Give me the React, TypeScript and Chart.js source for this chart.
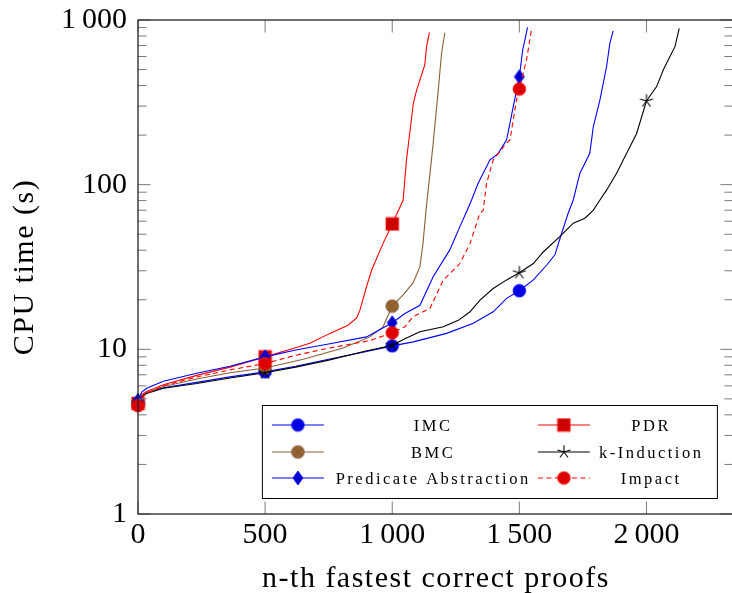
import React, { useEffect, useRef } from "react";
import { Chart, registerables } from "chart.js";

Chart.register(...registerables);

// ---------- data ----------
const seriesNames = ["IMC", "PDR", "BMC", "k-Induction", "Predicate Abstraction", "Impact"];

const imcPoints: [number, number][] = [
  [0, 4.7], [15, 5.2], [34, 5.45], [100, 5.85], [231, 6.3], [362, 6.8], [500, 7.3],
  [620, 7.9], [750, 8.7], [900, 9.7], [1000, 10.5], [1083, 11.1], [1214, 12.5],
  [1319, 14.4], [1397, 16.9], [1450, 20.4], [1500, 22.7], [1555, 26.4], [1607, 32.4],
  [1640, 37.5], [1666, 50.5], [1692, 67], [1712, 80.7], [1738, 117], [1777, 155],
  [1791, 225], [1817, 327], [1843, 520], [1856, 721], [1869, 860],
];

const pdrPoints: [number, number][] = [
  [0, 4.7], [15, 5.3], [34, 5.55], [100, 6.1], [231, 6.95], [362, 7.8], [500, 9.0],
  [600, 10.0], [676, 10.9], [755, 12.5], [826, 14.0], [860, 15.5], [873, 17.3],
  [899, 24], [919, 30.3], [964, 44], [1000, 57.7], [1043, 80.7], [1056, 141],
  [1083, 312], [1096, 375], [1128, 533], [1135, 689], [1146, 837],
];

const bmcPoints: [number, number][] = [
  [0, 4.7], [15, 5.2], [34, 5.45], [100, 5.95], [231, 6.6], [362, 7.2], [500, 7.7],
  [650, 8.7], [807, 10.2], [912, 11.9], [964, 13.7], [1000, 18.3], [1043, 21.4],
  [1082, 25.3], [1109, 31.8], [1121, 44], [1133, 70], [1142, 95], [1150, 123],
  [1161, 178], [1181, 375], [1194, 628], [1207, 837],
];

const kindPoints: [number, number][] = [
  [0, 4.7], [15, 5.15], [34, 5.4], [100, 5.8], [231, 6.2], [362, 6.7], [500, 7.2],
  [620, 7.8], [750, 8.6], [900, 9.8], [952, 10.2], [1000, 10.6], [1050, 11.6],
  [1109, 12.8], [1201, 13.7], [1260, 15.0], [1306, 16.9], [1345, 19.9], [1397, 23.4],
  [1450, 26.4], [1500, 29.2], [1555, 33.2], [1594, 39], [1659, 48.4], [1712, 58.4],
  [1758, 62.6], [1791, 70], [1817, 80.7], [1843, 92.6], [1882, 117], [1922, 155],
  [1961, 204], [2000, 322], [2040, 394], [2066, 497], [2092, 598], [2112, 689], [2129, 890],
];

const paPoints: [number, number][] = [
  [0, 4.9], [15, 5.5], [34, 5.8], [100, 6.4], [231, 7.15], [362, 7.9], [500, 9.0],
  [620, 9.9], [755, 10.8], [899, 11.9], [1000, 14.5], [1050, 16.5], [1109, 18.5],
  [1161, 27.6], [1227, 40.3], [1266, 55.6], [1295, 70], [1312, 80.7], [1338, 102],
  [1384, 141], [1417, 155], [1450, 187], [1476, 298], [1500, 452], [1513, 657],
  [1522, 756], [1532, 902],
];

const impactPoints: [number, number][] = [
  [0, 4.55], [15, 5.1], [34, 5.4], [100, 6.0], [231, 6.8], [362, 7.5], [500, 8.2],
  [620, 9.2], [755, 10.2], [912, 11.3], [1000, 12.6], [1050, 13.7], [1082, 15.8],
  [1148, 17.7], [1201, 26.4], [1266, 33.2], [1306, 44], [1345, 67], [1358, 70],
  [1371, 102], [1397, 141], [1443, 174], [1463, 187], [1476, 247], [1489, 327],
  [1500, 381], [1528, 571], [1541, 756], [1548, 880],
];

const xTicks = [0, 500, 1000, 1500, 2000];
const yTicks = [1, 10, 100, 1000];
const yMinorTicks = [
  2, 3, 4, 5, 6, 7, 8, 9,
  20, 30, 40, 50, 60, 70, 80, 90,
  200, 300, 400, 500, 600, 700, 800, 900,
];
const markerXs = [0, 500, 1000, 1500, 2000];
const xTitle = "n-th fastest correct proofs";
const yTitle = "CPU time (s)";

// ---------- helpers ----------
const FONT = "'Liberation Serif', 'Times New Roman', serif";

function fmt(v: number): string {
  if (v >= 1000) {
    const th = Math.floor(v / 1000);
    const rest = String(v % 1000).padStart(3, "0");
    return th + "\u2009" + rest;
  }
  return String(v);
}

function makeCanvas(w: number, h: number, draw: (g: CanvasRenderingContext2D) => void) {
  const c = document.createElement("canvas");
  c.width = w;
  c.height = h;
  const g = c.getContext("2d")!;
  draw(g);
  return c;
}

function circleMarker(fill: string, stroke: string) {
  return makeCanvas(15, 15, (g) => {
    g.beginPath();
    g.arc(7.5, 7.5, 6.3, 0, Math.PI * 2);
    g.fillStyle = fill;
    g.fill();
    g.lineWidth = 0.8;
    g.strokeStyle = stroke;
    g.stroke();
  });
}

function squareMarker(fill: string, stroke: string) {
  return makeCanvas(15, 15, (g) => {
    g.fillStyle = fill;
    g.fillRect(1.2, 1.2, 12.6, 12.6);
    g.lineWidth = 0.8;
    g.strokeStyle = stroke;
    g.strokeRect(1.2, 1.2, 12.6, 12.6);
  });
}

function otimesMarker(fill: string, stroke: string) {
  return makeCanvas(15, 15, (g) => {
    g.beginPath();
    g.arc(7.5, 7.5, 6.3, 0, Math.PI * 2);
    g.fillStyle = fill;
    g.fill();
    g.lineWidth = 0.8;
    g.strokeStyle = stroke;
    g.stroke();
    const d = 6.3 * Math.SQRT1_2;
    g.beginPath();
    g.moveTo(7.5 - d, 7.5 - d);
    g.lineTo(7.5 + d, 7.5 + d);
    g.moveTo(7.5 + d, 7.5 - d);
    g.lineTo(7.5 - d, 7.5 + d);
    g.stroke();
  });
}

function diamondMarker(fill: string, stroke: string) {
  return makeCanvas(12, 16, (g) => {
    g.beginPath();
    g.moveTo(6, 1);
    g.lineTo(11, 8);
    g.lineTo(6, 15);
    g.lineTo(1, 8);
    g.closePath();
    g.fillStyle = fill;
    g.fill();
    g.lineWidth = 0.8;
    g.strokeStyle = stroke;
    g.stroke();
  });
}

function starMarker(stroke: string) {
  return makeCanvas(16, 16, (g) => {
    g.strokeStyle = stroke;
    g.lineWidth = 1.1;
    g.beginPath();
    for (let k = 0; k < 5; k++) {
      const a = -Math.PI / 2 + (k * 2 * Math.PI) / 5;
      g.moveTo(8, 8);
      g.lineTo(8 + 6.8 * Math.cos(a), 8 + 6.8 * Math.sin(a));
    }
    g.stroke();
  });
}

function zeroPad(s: any) {
  s.paddingTop = 0;
  s.paddingBottom = 0;
  s.paddingLeft = 0;
  s.paddingRight = 0;
}

export default function App() {
  const ref = useRef<HTMLCanvasElement | null>(null);

  useEffect(() => {
    if (!ref.current) return;

    const markers = [
      circleMarker("#0000e0", "#0000ff"),
      squareMarker("#cc0000", "#ff0000"),
      otimesMarker("#996633", "#6e4a26"),
      starMarker("#000000"),
      diamondMarker("#0000cc", "#0000ff"),
      circleMarker("#dd0000", "#ff0000"),
    ];
    const colors = ["#0000ff", "#ff0000", "#8a6038", "#000000", "#0000ff", "#ff0000"];
    const dashes: number[][] = [[], [], [], [], [], [5, 3.5]];
    const allPoints = [imcPoints, pdrPoints, bmcPoints, kindPoints, paPoints, impactPoints];

    const datasets = seriesNames.map((name, i) => ({
      label: name,
      data: allPoints[i].map(([x, y]) => ({ x, y })),
      borderColor: colors[i],
      backgroundColor: colors[i],
      borderWidth: 1.1,
      borderDash: dashes[i],
      pointStyle: markers[i] as any,
      pointRadius: (ctx: any) => (ctx.raw && markerXs.includes(ctx.raw.x) ? 6 : 0),
      pointHoverRadius: 0,
      tension: 0,
      fill: false,
      clip: false as any,
      order: seriesNames.length - i,
    }));

    const framePlugin = {
      id: "pgfFrame",
      afterDatasetsDraw(chart: any) {
        const ctx: CanvasRenderingContext2D = chart.ctx;
        const ca = chart.chartArea;
        const xs = chart.scales.x;
        const ys = chart.scales.y;
        ctx.save();
        ctx.lineWidth = 1;
        ctx.strokeStyle = "#7a7a7a";
        ctx.beginPath();
        const major = 12.5;
        const minor = 8.5;
        for (const v of yTicks) {
          const p = ys.getPixelForValue(v);
          ctx.moveTo(ca.left, p); ctx.lineTo(ca.left + major, p);
          ctx.moveTo(ca.right, p); ctx.lineTo(ca.right - major, p);
        }
        for (const v of yMinorTicks) {
          const p = ys.getPixelForValue(v);
          ctx.moveTo(ca.left, p); ctx.lineTo(ca.left + minor, p);
          ctx.moveTo(ca.right, p); ctx.lineTo(ca.right - minor, p);
        }
        for (const v of xTicks) {
          const p = xs.getPixelForValue(v);
          ctx.moveTo(p, ca.bottom); ctx.lineTo(p, ca.bottom - major);
          ctx.moveTo(p, ca.top); ctx.lineTo(p, ca.top + major);
        }
        ctx.stroke();
        ctx.lineWidth = 1.3;
        ctx.strokeStyle = "#262626";
        ctx.strokeRect(ca.left, ca.top, ca.right - ca.left, ca.bottom - ca.top);
        ctx.restore();
      },
      afterDraw(chart: any) {
        const ctx: CanvasRenderingContext2D = chart.ctx;
        const ca = chart.chartArea;
        // legend
        const w = 456, h = 94;
        const right = ca.right - 15;
        const bottom = ca.bottom - 15;
        const left = right - w;
        const top = bottom - h;
        ctx.save();
        ctx.fillStyle = "#ffffff";
        ctx.fillRect(left, top, w, h);
        ctx.lineWidth = 1;
        ctx.strokeStyle = "#000000";
        ctx.strokeRect(left + 0.5, top + 0.5, w - 1, h - 1);
        const rowYs = [top + 20, top + 47, top + 73];
        const cols = [
          { l0: left + 10, l1: left + 62, m: left + 36, t: left + 170 },
          { l0: left + 276, l1: left + 328, m: left + 302, t: left + 388 },
        ];
        chart.data.datasets.forEach((ds: any, i: number) => {
          const col = cols[i % 2];
          const y = rowYs[Math.floor(i / 2)];
          ctx.save();
          ctx.strokeStyle = ds.borderColor;
          ctx.lineWidth = 1.1;
          ctx.setLineDash(ds.borderDash || []);
          ctx.beginPath();
          ctx.moveTo(col.l0, y);
          ctx.lineTo(col.l1, y);
          ctx.stroke();
          ctx.setLineDash([]);
          const img = ds.pointStyle as HTMLCanvasElement;
          ctx.drawImage(img, col.m - img.width / 2, y - img.height / 2);
          ctx.fillStyle = "#000";
          ctx.font = `16.5px ${FONT}`;
          (ctx as any).letterSpacing = "2.5px";
          ctx.textAlign = "center";
          ctx.textBaseline = "alphabetic";
          ctx.fillText(ds.label, col.t + 1.25, y + 5.5);
          ctx.restore();
        });
        // axis titles
        ctx.fillStyle = "#000";
        ctx.font = `30px ${FONT}`;
        (ctx as any).letterSpacing = "1.5px";
        ctx.textAlign = "center";
        ctx.textBaseline = "alphabetic";
        ctx.fillText(xTitle, 436, 587);
        ctx.translate(33, (ca.top + ca.bottom) / 2);
        ctx.rotate(-Math.PI / 2);
        ctx.fillText(yTitle, 0, 0);
        ctx.restore();
      },
    };

    const chart = new Chart(ref.current, {
      type: "line",
      data: { datasets: datasets as any },
      options: {
        responsive: false,
        animation: false,
        devicePixelRatio: 1,
        events: [],
        layout: { padding: { top: 20, right: 1, left: 0, bottom: 0 } },
        plugins: {
          legend: { display: false },
          tooltip: { enabled: false },
          title: { display: false },
        },
        scales: {
          x: {
            type: "linear",
            min: 0,
            max: 2340,
            grid: { display: false, drawTicks: false },
            border: { display: false },
            afterBuildTicks: (s: any) => {
              s.ticks = xTicks.map((v) => ({ value: v }));
            },
            afterFit: (s: any) => {
              s.height = 79;
              zeroPad(s);
            },
            ticks: {
              autoSkip: false,
              maxRotation: 0,
              padding: 3,
              color: "#000",
              font: { family: FONT, size: 30 },
              callback: (v: any) => fmt(Number(v)),
            },
          },
          y: {
            type: "logarithmic",
            min: 1,
            max: 1000,
            grid: { display: false, drawTicks: false },
            border: { display: false },
            afterBuildTicks: (s: any) => {
              s.ticks = yTicks.map((v) => ({ value: v }));
            },
            afterFit: (s: any) => {
              s.width = 138;
              zeroPad(s);
            },
            ticks: {
              autoSkip: false,
              padding: 11,
              color: "#000",
              font: { family: FONT, size: 30 },
              callback: (v: any) => fmt(Number(v)),
            },
          },
        },
      },
      plugins: [framePlugin],
    });

    return () => chart.destroy();
  }, []);

  return (
    <div
      style={{
        position: "fixed",
        left: 0,
        top: 0,
        width: 732,
        height: 593,
        overflow: "hidden",
        background: "#fff",
      }}
    >
      <canvas ref={ref} width={740} height={593} style={{ display: "block" }} />
    </div>
  );
}
